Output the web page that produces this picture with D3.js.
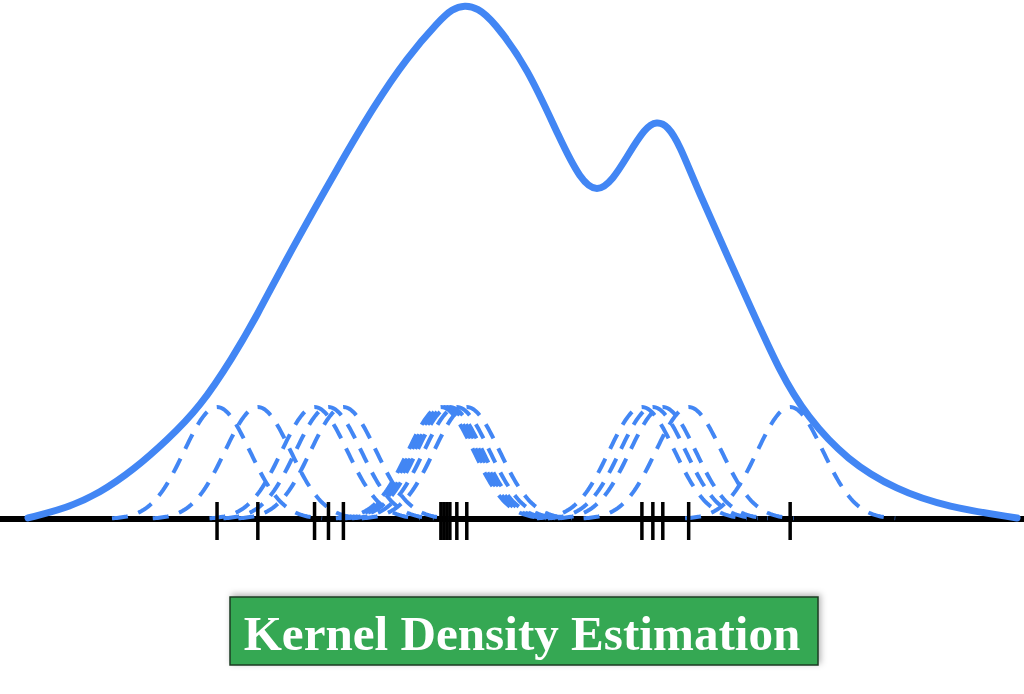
<!DOCTYPE html>
<html>
<head>
<meta charset="utf-8">
<script src="https://cdn.jsdelivr.net/npm/d3@7"></script>
<style>
  html, body { margin: 0; padding: 0; background: #fff; }
  svg { display: block; }
</style>
</head>
<body>
<svg id="chart" width="1024" height="694"></svg>
<script>
// Sample points (rug), x in arbitrary units 0..100
const samples = [19.3, 23.4, 29.1, 30.5, 32.0, 41.8, 42.1, 42.4, 42.7, 43.4, 44.4,
                 62.0, 63.1, 64.1, 66.7, 76.9];

// Individual kernel settings
const kernelBandwidth = 3.3;
const kernelPeak = 0.217;

// Overall density estimate
const kdeX = [0.3, 4.2, 7.5, 10.9, 14.3, 17.6, 20.9, 23.2, 26.6, 31.7, 35.0, 38.4, 41.7,
              42.9, 44.2, 45.5, 47.0, 50.5, 53.8, 55.8, 57.5, 59.1, 60.5, 62.3, 63.5,
              64.6, 65.8, 67.6, 72.6, 75.9, 78.6, 82.6, 87.6, 92.7, 99.7];
const kdeY = [0.002, 0.021, 0.050, 0.095, 0.153, 0.217, 0.314, 0.390, 0.516, 0.690, 0.798,
              0.895, 0.967, 0.988, 0.996, 0.990, 0.967, 0.876, 0.734, 0.658, 0.632, 0.658,
              0.702, 0.758, 0.771, 0.762, 0.725, 0.638, 0.424, 0.283, 0.198, 0.114, 0.056,
              0.023, 0.002];

const title = 'Kernel Density Estimation';

const blue = '#4286f4';
const svg = d3.select('#chart');

const x = d3.scaleLinear().domain([0, 100]).range([25, 1020]);
const y = d3.scaleLinear().domain([0, 1]).range([519, 3]);

// Baseline
svg.append('line')
    .attr('x1', 0).attr('x2', 1024)
    .attr('y1', y(0)).attr('y2', y(0))
    .attr('stroke', '#000')
    .attr('stroke-width', 6);

// Dashed kernels, one per sample
const kernelLine = d3.line().x(d => x(d[0])).y(d => y(d[1]));

samples.forEach(s => {
    const pts = d3.range(-3.2, 3.2001, 0.05).map(t => {
        return [s + t * kernelBandwidth, kernelPeak * Math.exp(-0.5 * t * t)];
    });
    svg.append('path')
        .attr('d', kernelLine(pts))
        .attr('fill', 'none')
        .attr('stroke', blue)
        .attr('stroke-width', 4)
        .attr('stroke-dasharray', '16,11');
});

// Overall KDE curve
svg.append('path')
    .attr('d', d3.line()
        .x((d, i) => x(kdeX[i]))
        .y(d => y(d))
        .curve(d3.curveBasis)(kdeY))
    .attr('fill', 'none')
    .attr('stroke', blue)
    .attr('stroke-width', 7)
    .attr('stroke-linecap', 'round');

// Rug ticks
svg.append('g')
    .selectAll('line')
    .data(samples)
    .join('line')
    .attr('x1', d => x(d)).attr('x2', d => x(d))
    .attr('y1', y(0) - 17).attr('y2', y(0) + 21)
    .attr('stroke', '#000')
    .attr('stroke-width', 3.5);

// Title box
const defs = svg.append('defs');
const f = defs.append('filter').attr('id', 'shadow')
    .attr('x', '-5%').attr('y', '-30%').attr('width', '110%').attr('height', '160%');
f.append('feDropShadow')
    .attr('dx', 2).attr('dy', -2).attr('stdDeviation', 3)
    .attr('flood-color', '#000').attr('flood-opacity', 0.3);

svg.append('rect')
    .attr('x', 230).attr('y', 597)
    .attr('width', 588).attr('height', 68)
    .attr('fill', '#34a853')
    .attr('stroke', '#1d3b22')
    .attr('stroke-width', 1.5)
    .attr('filter', 'url(#shadow)');

const label = svg.append('text')
    .attr('x', 522).attr('y', 650)
    .attr('text-anchor', 'middle')
    .attr('fill', '#fff')
    .attr('font-family', '"Liberation Serif", "Times New Roman", serif')
    .attr('font-weight', 'bold')
    .attr('font-size', 48)
    .text(title);

// fit label width to the box like in the reference
const w = label.node().getComputedTextLength();
label.attr('font-size', 48 * 557 / w);
</script>
</body>
</html>
